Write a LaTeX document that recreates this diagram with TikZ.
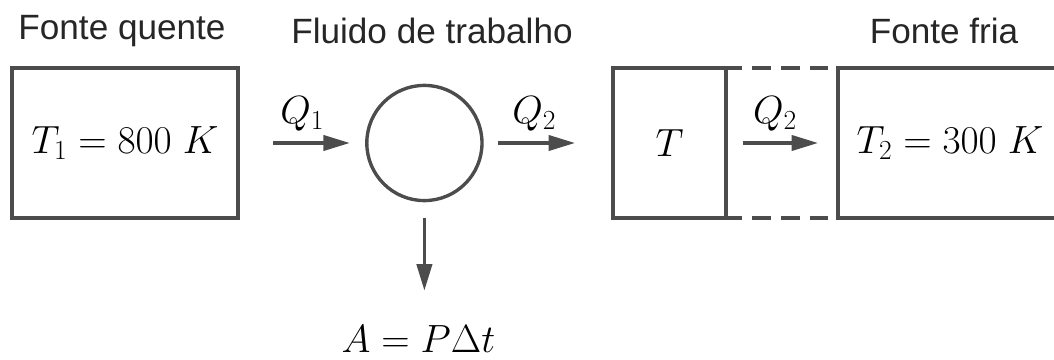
\RequirePackage{fix-cm}
\documentclass[tikz,border=0pt]{standalone}
\usepackage{fontspec}
\usepackage{amsmath}
\newfontfamily\labelfont{Liberation Sans}
\usetikzlibrary{arrows.meta}

\begin{document}
\begin{tikzpicture}[
  res/.style={draw=black!70, line width=2.4pt, outer sep=0pt, minimum height=3.75cm, font=\fontsize{28}{33}\selectfont},
  lab/.style={font=\labelfont\fontsize{25}{30}\selectfont, text=black!85},
  flow/.style={-{Triangle[length=0.66cm, width=0.38cm]}, draw=black!70, line width=2.4pt},
  heat/.style={font=\fontsize{28}{33}\selectfont},
  gap/.style={draw=black!70, line width=2.4pt, dash pattern=on 0.47cm off 0.25cm, dash phase=0.07cm}
]
\useasboundingbox (0,0) rectangle (26.35,8.975);
\clip (0,0) rectangle (26.35,8.975);

\node[res, minimum width=5.65cm] (hot) at (3.125,5.4) {$T_1 = 800\;K$};
\node[draw=black!70, line width=2.4pt, outer sep=0pt, circle, minimum size=2.88cm] (fluid) at (10.61,5.4) {};
\node[res, minimum width=2.825cm] (mid) at (16.7375,5.4) {$T$};
\node[res, minimum width=5.6cm] (cold) at (23.75,5.4) {$T_2 = 300\;K$};

\node[lab] (hotlab) at (3.05,8.2) {Fonte quente};
\node[lab] (fluidlab) at (10.8,8.2) {Fluido de trabalho};
\node[lab] (coldlab) at (23.6,8.2) {Fonte fria};

\draw[flow, shorten <=0.875cm, shorten >=0.425cm] (hot) -- node[heat, above=4pt, pos=0.5] {$Q_1$} (fluid);
\draw[flow, shorten <=0.4cm, shorten >=0.95cm] (fluid) -- node[heat, above=4pt, pos=0.4] {$Q_2$} (mid);
\draw[flow, shorten <=0.425cm, shorten >=0.5cm] (mid) -- node[heat, above=4pt, pos=0.4375] {$Q_2$} (cold);

\draw[gap] (mid.north east) -- (cold.north west);
\draw[gap] (mid.south east) -- (cold.south west);

\coordinate (wend) at ([yshift=-2.25cm]fluid.south);
\draw[flow, shorten <=0.425cm] (fluid.south) -- (wend);
\node[heat] (work) at ([xshift=-0.15cm, yshift=-1.2cm]wend) {$A = P\Delta t$};
\end{tikzpicture}
\end{document}
